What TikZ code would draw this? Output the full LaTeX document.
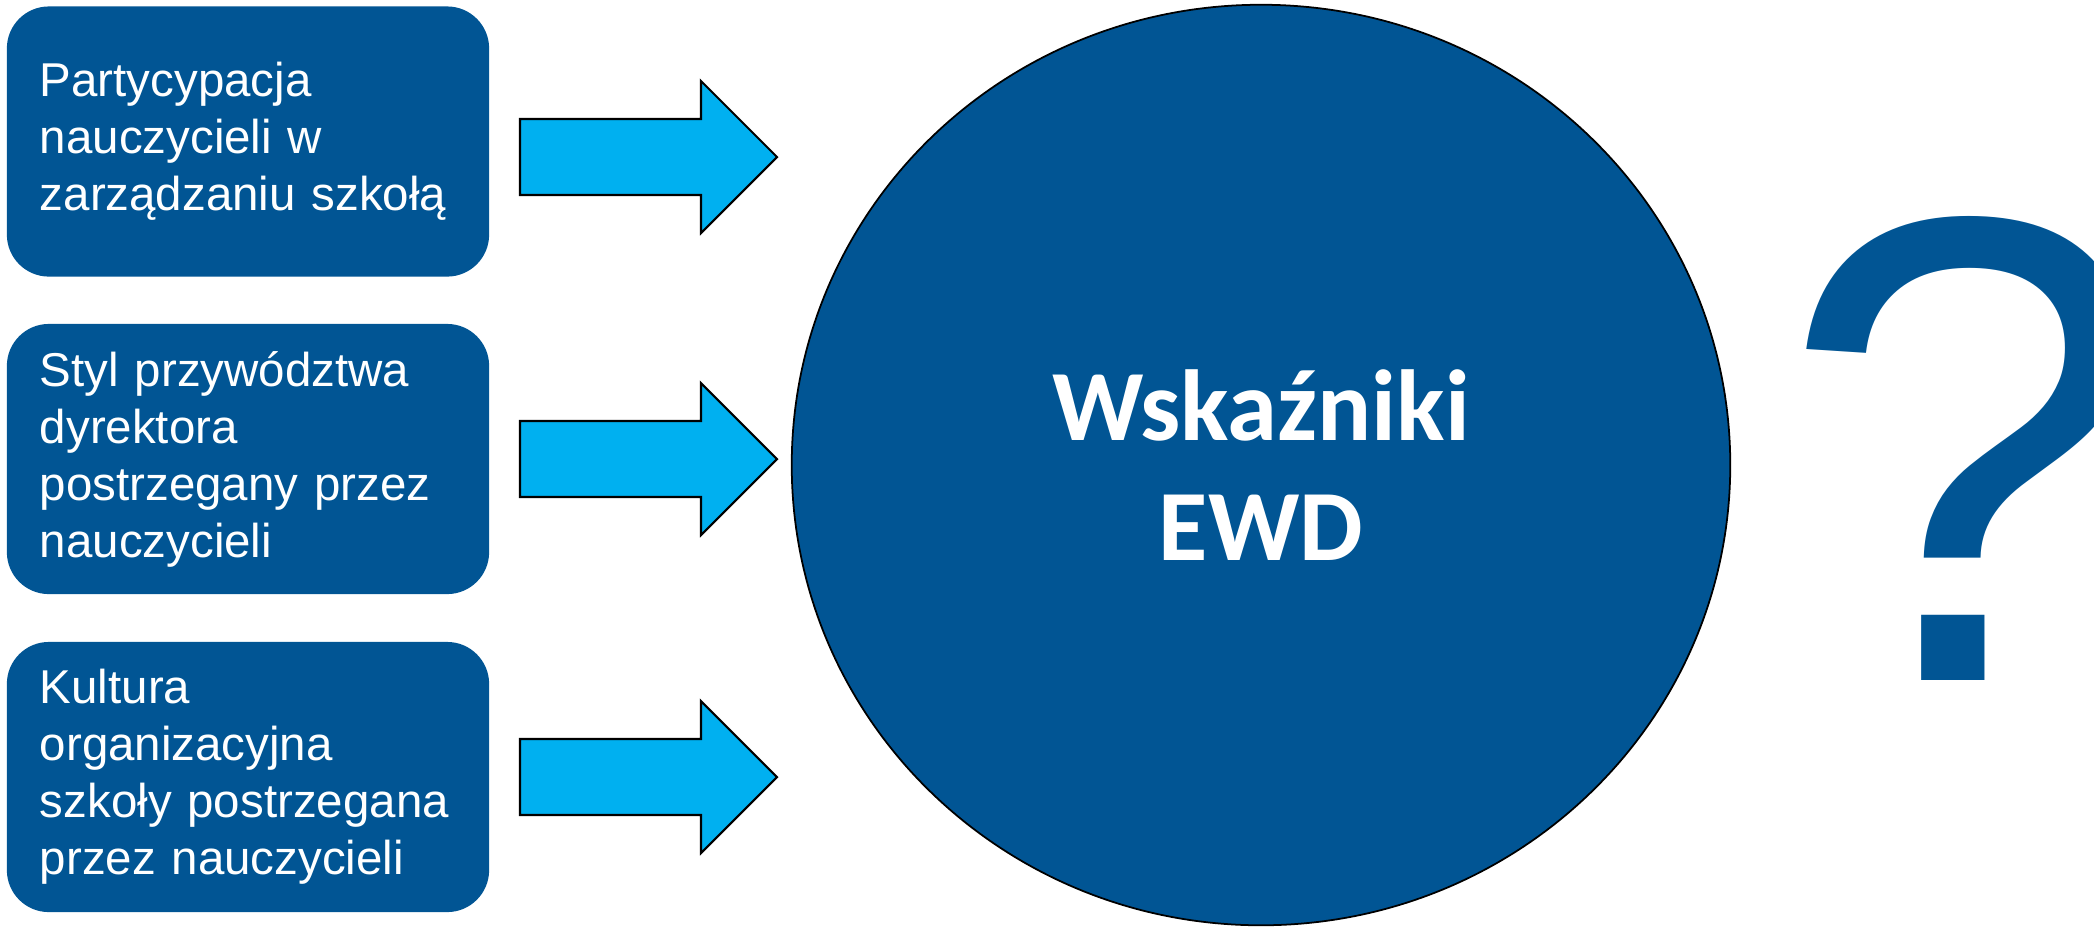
\documentclass[tikz,border=0pt]{standalone}
\usepackage{fontspec}
\setmainfont{Liberation Sans}
\newfontfamily\calibri{Carlito}
\usetikzlibrary{shapes.geometric}
\definecolor{ciemny}{RGB}{1,85,148}
\definecolor{jasny}{RGB}{0,176,240}

\begin{document}
\begin{tikzpicture}[x=0.01cm,y=-0.01cm,line join=miter,
	czynnik/.style={fill=ciemny,rounded corners=0.42cm,minimum width=4.82cm,minimum height=2.70cm,inner xsep=0.33cm,text width=4.16cm,align=left,text=white,font=\fontsize{13.5}{16.2}\selectfont},
	strzalka/.style={fill=jasny,draw=black,line width=0.6pt}]
	\useasboundingbox (0,0) rectangle (2094,926);
	\clip (0,0) rectangle (2094,926);
	% czynniki
	\node[czynnik] (c1) at (248,141.5) {Partycypacja\\nauczycieli w\\zarządzaniu szkołą};
	\node[czynnik] (c2) at (248,459) {Styl przywództwa\\dyrektora\\postrzegany przez\\nauczycieli};
	\node[czynnik] (c3) at (248,777) {Kultura\\organizacyjna\\szkoły postrzegana\\przez nauczycieli};
	% strzalki
	\foreach \y in {157,459,777}
		\draw[strzalka] (520,\y-38) -- (701,\y-38) -- (701,\y-76) -- (777,\y) -- (701,\y+76) -- (701,\y+38) -- (520,\y+38) -- cycle;
	\node[ellipse,draw=black,fill=ciemny,line width=0.5pt,minimum width=9.38cm,minimum height=9.20cm,inner sep=0,text=white,align=center,font=\calibri\bfseries\fontsize{28.7}{34.1}\selectfont] (ewd) at (1261,465) {Wskaźniki\\EWD};
	\node[anchor=base west,inner sep=0,text=ciemny,font=\fontsize{189}{189}\selectfont] (pytanie) at (1779,680) {?};
\end{tikzpicture}
\end{document}
